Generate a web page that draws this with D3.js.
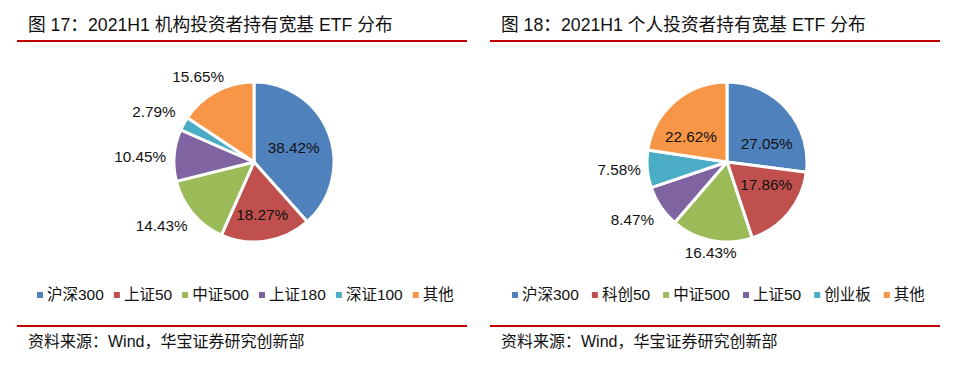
<!DOCTYPE html>
<html>
<head>
<meta charset="utf-8">
<script src="https://d3js.org/d3.v7.min.js"></script>
<style>
  body { margin: 0; background: #fff; }
  text { font-family: "Liberation Sans", Arial, "Noto Sans CJK SC", sans-serif; fill: #111; }
</style>
</head>
<body>
<svg width="953" height="377"></svg>
<script>
// data
var instNames = ["沪深300", "上证50", "中证500", "上证180", "深证100", "其他"];
var instValues = [38.42, 18.27, 14.43, 10.45, 2.79, 15.65];

var retailNames = ["沪深300", "科创50", "中证500", "上证50", "创业板", "其他"];
var retailValues = [27.05, 17.86, 16.43, 8.47, 7.58, 22.62];

var colors = ["#4F81BD", "#C0504D", "#9BBB59", "#8064A2", "#4BACC6", "#F79646"];

// label placement: [angle shift in degrees, distance from centre]
var instLabelPos = [[1.5, 42], [0, 53], [5.5, 112], [-2, 114], [-2, 112], [-5, 102]];
var retailLabelPos = [[16, 44], [-10, 45], [-1, 92], [2.5, 111], [1, 108], [-14.5, 44]];

var svg = d3.select("svg");

function panel(x0, title, names, values, labelPos, legendX, legendGap) {
    var g = svg.append("g").attr("transform", "translate(" + x0 + ",0)");

    g.append("text")
        .attr("x", 11).attr("y", 31)
        .attr("font-size", 17.7)
        .text(title);

    g.append("line")
        .attr("x1", 0).attr("x2", 450)
        .attr("y1", 41).attr("y2", 41)
        .attr("stroke", "#C00000").attr("stroke-width", 2);

    g.append("line")
        .attr("x1", 0).attr("x2", 450)
        .attr("y1", 326).attr("y2", 326)
        .attr("stroke", "#C00000").attr("stroke-width", 2);

    g.append("text")
        .attr("x", 11).attr("y", 347)
        .attr("font-size", 16)
        .text("资料来源：Wind，华宝证券研究创新部");

    var cx = 237, cy = 162, r = 80;
    var pie = d3.pie().sort(null).value(function(d) { return d; });
    var arc = d3.arc().innerRadius(0).outerRadius(r);
    var arcs = pie(values);

    var pg = g.append("g").attr("transform", "translate(" + cx + "," + cy + ")");
    pg.selectAll("path")
        .data(arcs)
        .enter().append("path")
        .attr("d", arc)
        .attr("fill", function(d, i) { return colors[i]; })
        .attr("stroke", "#fff")
        .attr("stroke-width", 3)
        .attr("stroke-linejoin", "round");

    pg.selectAll("text.lbl")
        .data(arcs)
        .enter().append("text")
        .attr("class", "lbl")
        .attr("font-size", 15.3)
        .attr("text-anchor", "middle")
        .attr("dy", "0.35em")
        .attr("x", function(d, i) {
            var a = (d.startAngle + d.endAngle) / 2 + labelPos[i][0] * Math.PI / 180;
            return Math.sin(a) * labelPos[i][1];
        })
        .attr("y", function(d, i) {
            var a = (d.startAngle + d.endAngle) / 2 + labelPos[i][0] * Math.PI / 180;
            return -Math.cos(a) * labelPos[i][1];
        })
        .text(function(d) { return d.data.toFixed(2) + "%"; });

    // legend laid out by text width
    var lg = g.append("g").attr("transform", "translate(" + legendX + ",295)");
    var cursor = 0;
    names.forEach(function(n, i) {
        var item = lg.append("g").attr("transform", "translate(" + cursor + ",0)");
        item.append("rect")
            .attr("x", 0).attr("y", -3)
            .attr("width", 6).attr("height", 6)
            .attr("fill", colors[i]);
        var t = item.append("text")
            .attr("x", 10).attr("y", 0)
            .attr("dy", "0.35em")
            .attr("font-size", 15.5)
            .text(n);
        cursor += 10 + t.node().getComputedTextLength() + legendGap;
    });
}

panel(17, "图 17：2021H1 机构投资者持有宽基 ETF 分布", instNames, instValues, instLabelPos, 20, 10);
panel(490, "图 18：2021H1 个人投资者持有宽基 ETF 分布", retailNames, retailValues, retailLabelPos, 22, 13);
</script>
</body>
</html>
